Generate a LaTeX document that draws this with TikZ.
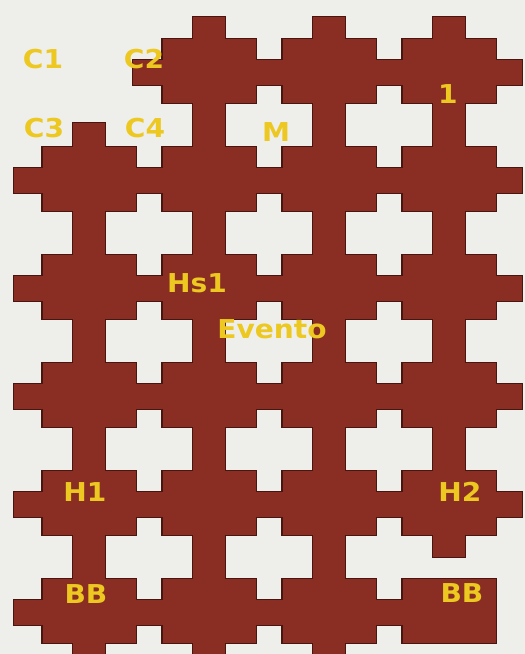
\documentclass[tikz,border=0pt]{standalone}
\usepackage{fontspec}
\newfontfamily\lblfont{DejaVu Sans}[FakeStretch=1.08]
\definecolor{bgc}{RGB}{238,238,235}
\definecolor{brn}{RGB}{138,46,36}
\definecolor{dkb}{RGB}{72,22,16}
\definecolor{ylw}{RGB}{236,200,32}
\tikzset{
  shp/.style={fill=brn},
  lbl/.style={text=ylw, inner sep=0pt, font=\lblfont\bfseries\fontsize{26}{26}\selectfont}
}
\newcommand\allshapes{%
  % vertical bars
  \path[shp] (73,123) rectangle (105,654);
  \path[shp] (193,17) rectangle (225,654);
  \path[shp] (313,17) rectangle (345,654);
  \path[shp] (433,17) rectangle (465,557);
  % horizontal bars
  \path[shp] (133,60) rectangle (522,85);
  \foreach \cy in {179,287,395,503}{
    \path[shp] (14,\cy-11) rectangle (522,\cy+14);
  }
  \path[shp] (14,600) rectangle (449,625);
  % blocks
  \foreach \cx in {209,329,449}{
    \path[shp] (\cx-46.5,39) rectangle (\cx+46.5,103);
  }
  \foreach \cy in {179,287,395,503,611}{
    \foreach \cx in {89,209,329,449}{
      \path[shp] (\cx-46.5,\cy-32) rectangle (\cx+46.5,\cy+32);
    }
  }
}
\begin{document}
\begin{tikzpicture}[x=1pt,y=-1pt]
  \useasboundingbox (0,0) rectangle (525,654);
  \fill[bgc] (0,0) rectangle (525,654);
  \begin{scope}[shp/.style={fill=dkb, draw=dkb, line width=2.4pt}]
    \allshapes
  \end{scope}
  \allshapes
  \node[lbl] (c1) at (43,59.5) {C1};
  \node[lbl] (c2) at (144,59) {C2};
  \node[lbl] (c3) at (44,128) {C3};
  \node[lbl] (c4) at (145,128) {C4};
  \node[lbl] (m) at (276,132.5) {M};
  \node[lbl] (one) at (448,94) {1};
  \node[lbl] (hs1) at (197,283.5) {Hs1};
  \node[lbl] (evento) at (272,329) {Evento};
  \node[lbl] (h1) at (85,492) {H1};
  \node[lbl] (h2) at (460,492) {H2};
  \node[lbl] (bb1) at (86,594) {BB};
  \node[lbl] (bb2) at (462,593) {BB};
\end{tikzpicture}
\end{document}
